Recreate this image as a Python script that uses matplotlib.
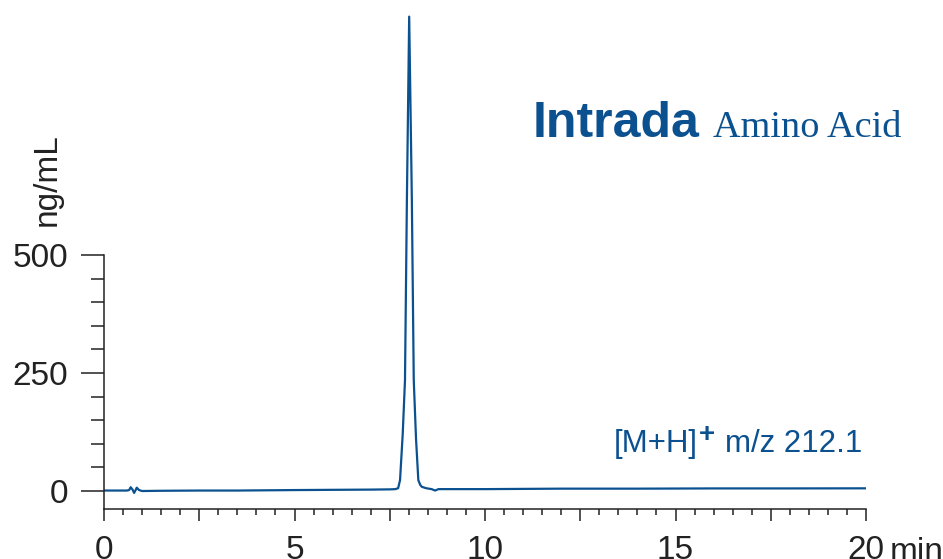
import matplotlib
matplotlib.use("Agg")
import matplotlib.pyplot as plt
from matplotlib.ticker import FixedLocator, MultipleLocator, FuncFormatter

# ---- data ----
time_min = [0, 0.3, 0.6, 0.66, 0.70, 0.75, 0.79, 0.83, 0.86, 0.92, 1.0, 1.5,
            2.5, 3.5, 5, 6, 7, 7.5, 7.65, 7.72, 7.77, 7.84, 7.90, 7.95, 8.01,
            8.08, 8.13, 8.19, 8.25, 8.30, 8.34, 8.45, 8.60, 8.69, 8.78, 8.95,
            10, 12, 14, 16, 18, 20]
conc_ngml = [1, 1, 1, 2, 8, 3, -4, 2, 7, 2, 0, 0.5,
             1, 1, 2, 2.5, 3, 3.5, 4, 6, 23, 120, 235, 617, 1005,
             617, 235, 110, 23, 13, 9, 6, 4, 1, 4, 4,
             4, 5, 5, 5.5, 5.5, 5.7]
x_labels = {0: "0", 5: "5", 10: "10", 15: "15", 20: "20"}
y_major = [0, 250, 500]
y_minor = [50, 100, 150, 200, 300, 350, 400, 450]

BLUE = "#0b5190"
DARK = "#222222"
plt.rcParams['font.family'] = ['Liberation Sans', 'DejaVu Sans']

W, H = 943, 559
fig = plt.figure(figsize=(W / 100, H / 100), dpi=100)
ax = fig.add_axes([104 / W, (H - 509) / H, (866 - 104) / W, (509 - 10) / H])

ax.plot(time_min, conc_ngml, color=BLUE, lw=1.6, solid_joinstyle='round')

ax.set_xlim(0, 20)
ax.set_ylim(-38.1, 1019)

for s in ("top", "right"):
    ax.spines[s].set_visible(False)
for s in ("left", "bottom"):
    ax.spines[s].set_color(DARK)
    ax.spines[s].set_linewidth(1.1)
ax.spines["left"].set_bounds(-38.1, 500)

ax.xaxis.set_major_locator(MultipleLocator(2.5))
ax.xaxis.set_minor_locator(MultipleLocator(0.5))
ax.xaxis.set_major_formatter(FuncFormatter(
    lambda v, p: x_labels.get(int(round(v)), "") if abs(v - round(v)) < 1e-6 else ""))
ax.yaxis.set_major_locator(FixedLocator(y_major))
ax.yaxis.set_minor_locator(FixedLocator(y_minor))

ax.tick_params(axis='x', which='major', length=8.6, width=1.1, color=DARK,
               labelsize=24, labelcolor=DARK, pad=10)
ax.tick_params(axis='x', which='minor', length=4.3, width=1.1, color=DARK)
ax.tick_params(axis='y', which='major', length=16.6, width=1.1, color=DARK,
               labelsize=24, labelcolor=DARK, pad=9)
ax.tick_params(axis='y', which='minor', length=9.4, width=1.1, color=DARK)

ax.annotate("min", xy=(20, 0), xycoords=('data', 'axes fraction'),
            xytext=(17, -20.5), textcoords='offset points',
            ha='left', va='top', fontsize=24, color=DARK)

fig.text(47 / W, (H - 180) / H, "ng/mL", rotation=90, ha='center', va='center',
         fontsize=24, color=DARK)

fig.text(533 / W, (H - 137) / H, "Intrada", fontsize=36, fontweight='bold',
         color=BLUE, ha='left', va='baseline')
fig.text(713 / W, (H - 137) / H, "Amino Acid", fontsize=27.5,
         family=['Liberation Serif', 'DejaVu Serif'],
         color=BLUE, ha='left', va='baseline')

# ion label: "[M+H]" + superscript "+" + " m/z 212.1"
fig.canvas.draw()
renderer = fig.canvas.get_renderer()
base_y = (H - 452) / H
t_mz = fig.text(862 / W, base_y, "m/z 212.1", fontsize=22.5, color=BLUE,
                ha='right', va='baseline')
x0 = t_mz.get_window_extent(renderer).x0
t_plus = fig.text((x0 - 10) / W, base_y + 10 / H, "+", fontsize=20,
                  fontweight='bold', color=BLUE, ha='right', va='baseline')
x1 = t_plus.get_window_extent(renderer).x0
fig.text((x1 - 1) / W, base_y, "[M+H]", fontsize=22.5, color=BLUE,
         ha='right', va='baseline')

fig.savefig("out.png", dpi=100)
